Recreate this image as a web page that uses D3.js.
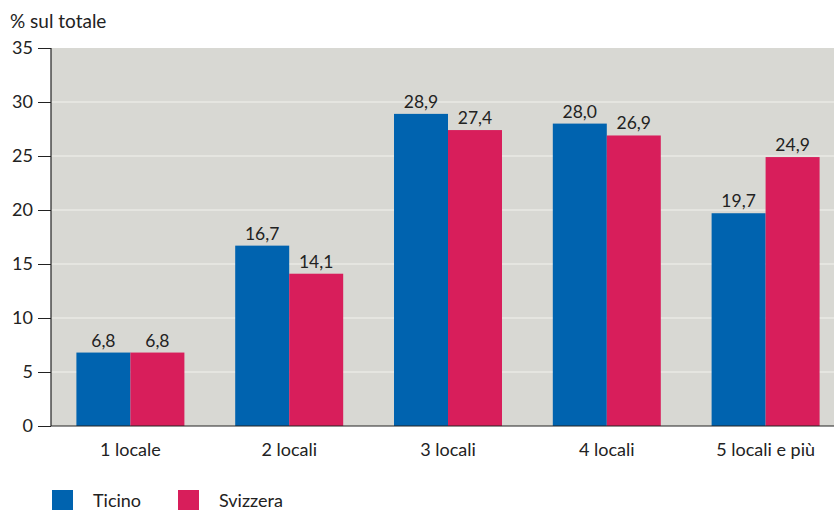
<!DOCTYPE html>
<html>
<head>
<meta charset="utf-8">
<script src="https://cdn.jsdelivr.net/npm/d3@7"></script>
<style>
  html, body { margin: 0; padding: 0; background: #fff; }
  svg { display: block; font-family: "Lato", "Open Sans", sans-serif; }
</style>
</head>
<body>
<svg id="chart" width="834" height="510"></svg>
<script>
// Dwellings by number of rooms, share of total (%)
const categories = ["1 locale", "2 locali", "3 locali", "4 locali", "5 locali e più"];
const seriesNames = ["Ticino", "Svizzera"];
const ticino = [6.8, 16.7, 28.9, 28.0, 19.7];
const svizzera = [6.8, 14.1, 27.4, 26.9, 24.9];
const yTicks = [0, 5, 10, 15, 20, 25, 30, 35];
const colors = ["#0063af", "#d81e5b"];

const svg = d3.select("#chart");
const plotLeft = 51, plotTop = 48, plotBottom = 426, plotRight = 845;

const x0 = d3.scaleBand().domain(categories).range([plotLeft, plotRight]).paddingInner(0.32).paddingOuter(0.16);
const x1 = d3.scaleBand().domain(seriesNames).range([0, x0.bandwidth()]);
const y = d3.scaleLinear().domain([0, 35]).range([plotBottom, plotTop]);

// plot background
svg.append("rect").attr("x", plotLeft).attr("y", plotTop).attr("width", 834 - plotLeft).attr("height", plotBottom - plotTop)
  .attr("fill", "#d8d8d3");

// horizontal grid
svg.append("g").selectAll("line").data(yTicks.filter(d => d > 0 && d < 35)).join("line")
  .attr("x1", plotLeft).attr("x2", 834).attr("y1", d => y(d)).attr("y2", d => y(d))
  .attr("stroke", "#f2f2ee").attr("stroke-width", 1.2);

const rows = categories.map((c, i) => ({ cat: c, values: [ticino[i], svizzera[i]] }));

const groups = svg.append("g").selectAll("g").data(rows).join("g")
  .attr("transform", d => `translate(${x0(d.cat)},0)`);

groups.selectAll("rect").data(d => d.values.map((v, j) => ({ s: seriesNames[j], v, j }))).join("rect")
  .attr("x", d => x1(d.s)).attr("width", x1.bandwidth())
  .attr("y", d => y(d.v)).attr("height", d => y(0) - y(d.v))
  .attr("fill", d => colors[d.j]);

groups.selectAll("text").data(d => d.values.map((v, j) => ({ s: seriesNames[j], v, j }))).join("text")
  .attr("x", d => x1(d.s) + x1.bandwidth() / 2).attr("y", d => y(d.v) - 6)
  .attr("text-anchor", "middle").attr("font-size", 17.5).attr("fill", "#222")
  .text(d => d3.format(".1f")(d.v).replace(".", ","));

// y axis
const yAxis = d3.axisLeft(y).tickValues(yTicks).tickSize(13).tickPadding(5);
const gy = svg.append("g").attr("transform", `translate(${plotLeft},0)`).call(yAxis);
gy.select(".domain").attr("d", `M0,${plotTop}V${plotBottom}`).attr("stroke", "#222").attr("stroke-width", 1.2);
gy.selectAll(".tick line").attr("stroke", "#222");
gy.selectAll(".tick text").attr("font-size", 18).attr("fill", "#222").attr("font-family", "Lato, sans-serif");

// x axis baseline and labels
svg.append("line").attr("x1", plotLeft).attr("x2", 834).attr("y1", plotBottom).attr("y2", plotBottom)
  .attr("stroke", "#222").attr("stroke-width", 1.2);
const xAxis = d3.axisBottom(x0).tickSize(0).tickPadding(17);
const gx = svg.append("g").attr("transform", `translate(0,${plotBottom})`).call(xAxis);
gx.select(".domain").remove();
gx.selectAll(".tick text").attr("font-size", 18).attr("fill", "#222").attr("font-family", "Lato, sans-serif");

// y title
svg.append("text").attr("x", 10).attr("y", 28).attr("font-size", 19).attr("fill", "#222").text("% sul totale");

// legend
const legendX = [52, 178];
const lg = svg.append("g").selectAll("g").data(seriesNames).join("g")
  .attr("transform", (d, i) => `translate(${legendX[i]},490)`);
lg.append("rect").attr("width", 21).attr("height", 20).attr("fill", (d, i) => colors[i]);
lg.append("text").attr("x", 41).attr("y", 17).attr("font-size", 18).attr("fill", "#222").text(d => d);
</script>
</body>
</html>
